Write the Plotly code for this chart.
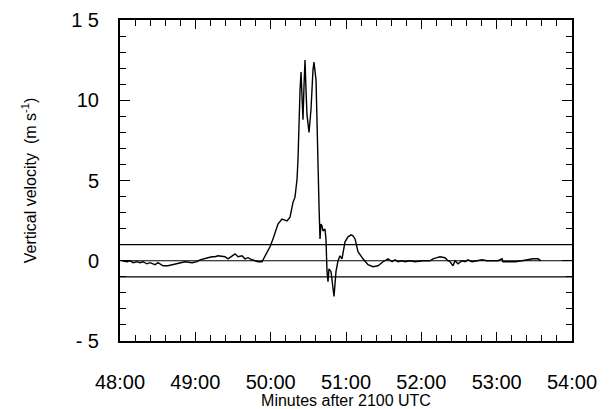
import plotly.graph_objects as go

# time in minutes after 2100 UTC (48.0 = 48:00)
time_min = [48.027, 48.093, 48.133, 48.173, 48.226, 48.265, 48.305, 48.358, 48.398, 48.465,
            48.504, 48.571, 48.637, 48.690, 48.730, 48.797, 48.863, 48.956, 49.022, 49.062,
            49.102, 49.168, 49.221, 49.261, 49.301, 49.354, 49.394, 49.434, 49.487, 49.527,
            49.566, 49.620, 49.659, 49.699, 49.752, 49.792, 49.832, 49.885,
            49.938, 49.991, 50.031, 50.071, 50.097, 50.150, 50.217, 50.257, 50.297, 50.323,
            50.350, 50.363, 50.376, 50.390, 50.403, 50.416, 50.429, 50.443, 50.456, 50.469,
            50.482, 50.509, 50.535, 50.562, 50.575, 50.602, 50.615, 50.628, 50.642, 50.655,
            50.668, 50.681, 50.695, 50.721, 50.734, 50.748, 50.761, 50.774, 50.801, 50.828,
            50.841, 50.867, 50.894, 50.921, 50.947, 50.987, 51.027, 51.067, 51.093, 51.120,
            51.159, 51.226, 51.292, 51.359, 51.425, 51.491, 51.558, 51.611, 51.651, 51.690,
            51.744, 51.783, 51.850, 51.916, 52.022, 52.115, 52.155, 52.208, 52.248, 52.314,
            52.354, 52.381, 52.421, 52.447, 52.487, 52.540, 52.580, 52.620, 52.673, 52.739,
            52.806, 52.872, 52.952, 53.018, 53.071, 53.084, 53.137, 53.244, 53.337, 53.403,
            53.483, 53.549, 53.589]

velocity = [0.0, -0.06, 0.0, -0.12, -0.06, -0.12, -0.06, -0.19, -0.12, -0.25,
            -0.12, -0.31, -0.31, -0.25, -0.19, -0.12, -0.06, -0.12, -0.06, 0.06,
            0.12, 0.19, 0.25, 0.25, 0.31, 0.25, 0.25, 0.12, 0.31, 0.43,
            0.25, 0.31, 0.12, 0.19, 0.06, 0.0, -0.06, -0.06,
            0.43, 0.87, 1.36, 1.92, 2.29, 2.60, 2.48, 2.72, 3.65, 3.96,
            5.08, 6.32, 8.79, 10.65, 11.76, 10.03, 8.79, 10.96, 12.51, 10.65,
            9.10, 7.99, 9.41, 11.89, 12.38, 11.27, 8.17, 5.70, 3.41, 1.36,
            2.29, 2.17, 1.86, 1.98, 1.36, -0.68, -1.30, -0.50, -0.68, -1.73,
            -2.23, -0.68, 0.0, 0.31, 0.12, 1.18, 1.49, 1.61, 1.55, 1.36,
            0.56, 0.12, -0.25, -0.37, -0.31, -0.06, 0.12, -0.06, 0.06, -0.06,
            0.0, -0.06, 0.0, -0.06, 0.0, 0.0, 0.12, 0.19, 0.25, 0.19,
            0.0, -0.06, -0.31, 0.0, -0.19, 0.0, -0.06, 0.06, -0.06, 0.0,
            0.06, 0.0, 0.0, 0.0, 0.12, -0.06, -0.06, -0.06, 0.0, 0.06,
            0.12, 0.12, 0.0]

ref_levels = [1, 0, -1]

x_range = [48, 54]
y_range = [-5, 15]
x_tickvals = [48, 49, 50, 51, 52, 53, 54]
x_ticktext = ["48:00", "49:00", "50:00", "51:00", "52:00", "53:00", "54:00"]
y_tickvals = [-5, 0, 5, 10, 15]
y_ticktext = ["- 5", "0", "5", "10", "1 5"]

FONT = "Liberation Sans, Arial, Helvetica, sans-serif"

fig = go.Figure()
# the record
fig.add_trace(go.Scatter(x=time_min, y=velocity, mode="lines",
                         line=dict(color="black", width=1.4), showlegend=False,
                         xaxis="x", yaxis="y"))
# same record, invisible, so the other axes (labels / tick sets) are drawn
for xa, ya in [("x2", "y2"), ("x3", "y3"), ("x4", "y4")]:
    fig.add_trace(go.Scatter(x=time_min, y=velocity, mode="lines",
                             line=dict(color="rgba(0,0,0,0)", width=0), showlegend=False,
                             hoverinfo="skip", xaxis=xa, yaxis=ya))

for lv in ref_levels:
    fig.add_shape(type="line", xref="paper", x0=0, x1=1, yref="y", y0=lv, y1=lv,
                  line=dict(color="black", width=1.2))

tick_common = dict(showgrid=False, zeroline=False, ticks="inside", tickwidth=1,
                   tickcolor="black", showticklabels=False, automargin=False)
x_minor = dict(dtick=0.2, tick0=48, ticks="inside", ticklen=6, tickwidth=1,
               tickcolor="black", showgrid=False)
y_minor = dict(dtick=1, tick0=0, ticks="inside", ticklen=6, tickwidth=1,
               tickcolor="black", showgrid=False)

fig.update_layout(
    width=606, height=401,
    margin=dict(l=112, r=42, t=12, b=68),
    paper_bgcolor="white", plot_bgcolor="rgba(0,0,0,0)",
    font=dict(family=FONT, color="black"),
    # frame
    xaxis=dict(range=x_range, tickvals=x_tickvals, showline=True, linecolor="black",
               linewidth=1.5, mirror=True, showgrid=False, zeroline=False,
               showticklabels=False, ticks="", automargin=False),
    yaxis=dict(range=y_range, tickvals=y_tickvals, showline=True, linecolor="black",
               linewidth=1.5, mirror=True, showgrid=False, zeroline=False,
               showticklabels=False, ticks="", automargin=False),
    # top / right ticks (separate subplot sharing the same domain)
    xaxis3=dict(range=x_range, domain=[0, 1], side="top", anchor="y3", tickvals=x_tickvals,
                ticklen=9, minor=x_minor, showline=False, **tick_common),
    yaxis3=dict(range=y_range, domain=[0, 1], side="right", anchor="x3", tickvals=y_tickvals,
                ticklen=10, minor=y_minor, showline=False, **tick_common),
    # bottom / left ticks (separate subplot sharing the same domain)
    xaxis4=dict(range=x_range, domain=[0, 1], side="bottom", anchor="y4", tickvals=x_tickvals,
                ticklen=9, minor=x_minor, showline=False, **tick_common),
    yaxis4=dict(range=y_range, domain=[0, 1], side="left", anchor="x4", tickvals=y_tickvals,
                ticklen=10, minor=y_minor, showline=False, **tick_common),
    # labels
    xaxis2=dict(range=x_range, overlaying="x", side="bottom", tickvals=x_tickvals,
                ticktext=x_ticktext, showgrid=False, zeroline=False, showline=False,
                ticks="outside", ticklen=23, tickcolor="rgba(0,0,0,0)", automargin=False,
                tickfont=dict(size=20, family=FONT),
                title=dict(text="Minutes after 2100 UTC", font=dict(size=16, family=FONT),
                           standoff=3)),
    yaxis2=dict(range=y_range, overlaying="y", side="left", tickvals=y_tickvals,
                ticktext=y_ticktext, showgrid=False, zeroline=False, showline=False,
                ticks="outside", ticklen=16, tickcolor="rgba(0,0,0,0)", automargin=False,
                tickfont=dict(size=20, family=FONT),
                title=dict(text="Vertical velocity  (m s<sup>-1</sup>)",
                           font=dict(size=16, family=FONT), standoff=30)),
)

fig.write_html("out.html")
